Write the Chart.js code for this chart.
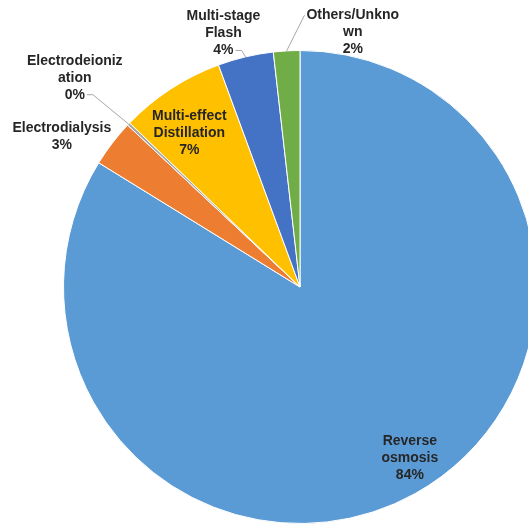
<!DOCTYPE html>
<html>
<head>
<meta charset="utf-8">
<script src="https://cdn.jsdelivr.net/npm/chart.js@4/dist/chart.umd.min.js"></script>
<style>
  html, body { margin: 0; padding: 0; background: #fff; overflow: hidden; }
  #wrap { width: 600px; height: 526px; position: relative; }
</style>
</head>
<body>
<div id="wrap"><canvas id="techChart"></canvas></div>
<script>
// desalination capacity share by technology
const labels = ["Reverse osmosis", "Electrodialysis", "Electrodeionization", "Multi-effect Distillation", "Multi-stage Flash", "Others/Unknown"];
const shares = [83.8, 3.2, 0.2, 7.2, 3.8, 1.8];
const shownPct = ["84%", "3%", "0%", "7%", "4%", "2%"];
const labelLines = [
  ["Reverse", "osmosis"],
  ["Electrodialysis"],
  ["Electrodeioniz", "ation"],
  ["Multi-effect", "Distillation"],
  ["Multi-stage", "Flash"],
  ["Others/Unkno", "wn"]
];
const colors = ["#5B9BD5", "#ED7D31", "#A5A5A5", "#FFC000", "#4472C4", "#70AD47"];

// where each label block sits: angle (deg, clockwise from top) and distance in radii
const labelPlace = [
  { angle: 147.3, dist: 0.86 },
  { angle: -57.8, dist: 1.19 },
  { angle: -47.1, dist: 1.30, leader: "right" },
  { angle: -35.8, dist: 0.80 },
  { angle: -16.8, dist: 1.12, leader: "right" },
  { angle: 11.7, dist: 1.10, leader: "left" }
];

const LINE_H = 17;
const FONT = "bold 14px 'Liberation Sans', Arial, sans-serif";

const pieLabels = {
  id: "pieLabels",
  afterDatasetsDraw(chart) {
    const ctx = chart.ctx;
    const meta = chart.getDatasetMeta(0);
    ctx.save();
    ctx.font = FONT;
    ctx.textAlign = "center";
    ctx.textBaseline = "middle";
    meta.data.forEach((arc, i) => {
      const { x, y, outerRadius, startAngle, endAngle } = arc.getProps(["x", "y", "outerRadius", "startAngle", "endAngle"], true);
      const place = labelPlace[i];
      const a = (place.angle - 90) * Math.PI / 180;
      const cx = x + Math.cos(a) * outerRadius * place.dist;
      const cy = y + Math.sin(a) * outerRadius * place.dist;
      const lines = labelLines[i].concat([shownPct[i]]);
      const top = cy - (lines.length - 1) * LINE_H / 2;

      if (place.leader) {
        const mid = (startAngle + endAngle) / 2;
        const ax = x + Math.cos(mid) * outerRadius;
        const ay = y + Math.sin(mid) * outerRadius;
        let lx, ly;
        if (place.leader === "left") {
          lx = cx - ctx.measureText(lines[0]).width / 2 - 2;
          ly = top;
        } else {
          const last = lines[lines.length - 1];
          lx = cx + ctx.measureText(last).width / 2 + 2;
          ly = top + (lines.length - 1) * LINE_H;
        }
        ctx.strokeStyle = "#A6A6A6";
        ctx.lineWidth = 1;
        ctx.beginPath();
        ctx.moveTo(lx, ly);
        if (place.leader === "right") ctx.lineTo(lx + 6, ly);
        ctx.lineTo(ax, ay);
        ctx.stroke();
      }

      ctx.fillStyle = "#262626";
      lines.forEach((t, k) => ctx.fillText(t, cx, top + k * LINE_H));
    });
    ctx.restore();
  }
};

new Chart(document.getElementById("techChart"), {
  type: "pie",
  data: {
    labels: labels,
    datasets: [{
      data: shares,
      backgroundColor: colors,
      borderColor: "#ffffff",
      borderWidth: 1
    }]
  },
  options: {
    responsive: true,
    maintainAspectRatio: false,
    animation: false,
    layout: { padding: { left: 63, right: 63, top: 50, bottom: 2 } },
    plugins: {
      legend: { display: false },
      tooltip: { enabled: false }
    }
  },
  plugins: [pieLabels]
});
</script>
</body>
</html>
